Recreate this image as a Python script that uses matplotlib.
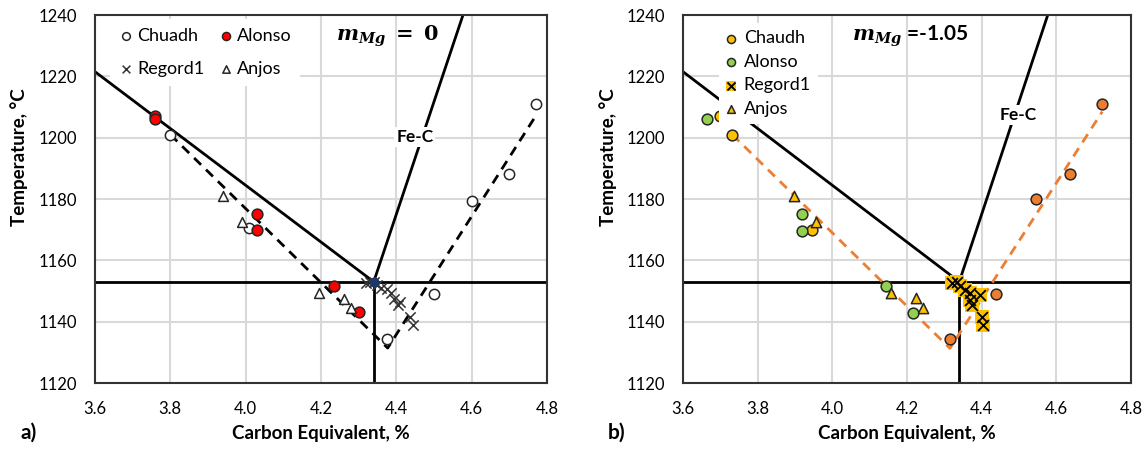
import matplotlib
matplotlib.use("Agg")
from matplotlib import pyplot as plt
import numpy as np

plt.rcParams['font.family'] = ['Lato', 'DejaVu Sans']
plt.rcParams['mathtext.fontset'] = 'dejavuserif'

# ---------------------------------------------------------------- data
# panel a) m_Mg = 0
chuadh_ce = [3.80, 4.01, 4.375, 4.50, 4.60, 4.70, 4.77]
chuadh_t  = [1201, 1170.5, 1134.5, 1149, 1179.5, 1188, 1211]
alonso_ce = [3.76, 3.76, 4.03, 4.03, 4.235, 4.30]
alonso_t  = [1207, 1206, 1175, 1170, 1151.5, 1143]
regord_ce = [4.32, 4.33, 4.34, 4.35, 4.36, 4.375, 4.385, 4.395, 4.405, 4.41, 4.435, 4.445]
regord_t  = [1152.5, 1153, 1153, 1152, 1151, 1150.5, 1149.5, 1147.5, 1145.5, 1146.5, 1141.5, 1139]
anjos_ce  = [3.94, 3.99, 4.195, 4.26, 4.28]
anjos_t   = [1181, 1172.5, 1149.5, 1147.5, 1144.5]
trend_a_ce = [3.80, 4.377, 4.768]
trend_a_t  = [1201, 1131.4, 1206.7]

# panel b) m_Mg = -1.05
chaudh_b_ce = [3.70, 3.73, 3.946]
chaudh_b_t  = [1207, 1201, 1170]
alonso_b_ce = [3.663, 3.92, 3.92, 4.144, 4.216]
alonso_b_t  = [1206, 1175, 1169.5, 1151.5, 1142.7]
regord_b_ce = [4.32, 4.333, 4.342, 4.355, 4.369, 4.369, 4.373, 4.396, 4.40, 4.404]
regord_b_t  = [1152.5, 1153, 1151.5, 1150.3, 1149.2, 1147.1, 1145.4, 1148.7, 1141.6, 1139]
anjos_b_ce  = [3.898, 3.956, 4.156, 4.223, 4.243]
anjos_b_t   = [1181, 1172.5, 1149.5, 1147.6, 1144.6]
hyper_b_ce  = [4.315, 4.439, 4.546, 4.636, 4.722]
hyper_b_t   = [1134.3, 1149, 1180, 1188.2, 1211]
trend_b_ce = [3.732, 4.315, 4.723]
trend_b_t  = [1201, 1131.3, 1208.5]

# Fe-C diagram lines
liq_ce   = [3.60, 4.34]
liq_t    = [1221.5, 1153]
gr_ce    = [4.34, 4.577]
gr_t     = [1153, 1240]
eut_ce   = 4.34
eut_t    = 1153

YELLOW = '#FFC000'
GREEN  = '#92D050'
ORANGE = '#ED7D31'
EDGE   = '#262626'

fig = plt.figure(figsize=(11.48, 4.51), dpi=100)
axa = fig.add_axes([95/1148, 68/451, 452/1148, 368/451])
axb = fig.add_axes([683/1148, 68/451, 448/1148, 368/451])


def setup(ax):
    ax.set_xlim(3.6, 4.8)
    ax.set_ylim(1120, 1240)
    ax.set_xticks(np.arange(3.6, 4.81, 0.2))
    ax.set_xticklabels(['%.1f' % v for v in np.arange(3.6, 4.81, 0.2)])
    ax.set_yticks(np.arange(1120, 1241, 20))
    ax.grid(color='#d9d9d9', linewidth=1.5, zorder=0)
    ax.set_axisbelow(True)
    ax.tick_params(length=0, labelsize=12, pad=13)
    for s in ax.spines.values():
        s.set_linewidth(1.5)
        s.set_color('#333333')
    ax.set_xlabel('Carbon Equivalent, %', fontsize=13.5, fontweight='bold')
    ax.set_ylabel('Temperature, °C', fontsize=13.5, fontweight='bold')
    ax.xaxis.label.set_va('center')
    ax.yaxis.label.set_va('center')
    ax.xaxis.set_label_coords(0.5, -0.136)
    ax.yaxis.set_label_coords(-0.168, 0.614)
    # Fe-C lines
    ax.plot(liq_ce, liq_t, color='black', lw=2, zorder=2)
    ax.plot(gr_ce, gr_t, color='black', lw=2, zorder=2)
    ax.axhline(eut_t, color='black', lw=2, zorder=2)
    ax.plot([eut_ce, eut_ce], [1120, eut_t], color='black', lw=2, zorder=2)


setup(axa)
setup(axb)

# ---------------------------------------------------------------- panel a
axa.plot(trend_a_ce, trend_a_t, color='black', lw=2, ls=(0, (3.5, 2.5)), zorder=2)
axa.scatter(regord_ce, regord_t, marker='x', s=55, color='#333333', lw=1.1,
            zorder=3, label='Regord1')
axa.scatter([eut_ce], [eut_t], marker='o', s=40, color='#1F3864', zorder=4)
axa.scatter(chuadh_ce, chuadh_t, marker='o', s=55, facecolor='white',
            edgecolor=EDGE, lw=1.1, zorder=3, label='Chuadh')
axa.scatter(alonso_ce, alonso_t, marker='o', s=60, facecolor='#FF0000',
            edgecolor=EDGE, lw=1.1, zorder=3, label='Alonso')
axa.scatter(anjos_ce, anjos_t, marker='^', s=50, facecolor='white',
            edgecolor=EDGE, lw=1.1, zorder=3, label='Anjos')

h, l = axa.get_legend_handles_labels()
order = [1, 0, 2, 3]
lga = axa.legend([h[i] for i in order], [l[i] for i in order], ncol=2,
                 loc='upper left', bbox_to_anchor=(0.033, 0.99), fontsize=13,
                 frameon=True, fancybox=False, edgecolor='none', framealpha=1,
                 handletextpad=0.2, columnspacing=0.8, handlelength=0.8,
                 borderpad=0.5, labelspacing=0.95, borderaxespad=0.0,
                 markerscale=0.75)
# sits over the grid but under the diagram lines
lga.set_zorder(1.5)

axa.text(4.449, 1200.3, 'Fe-C', fontsize=12.5, fontweight='bold', ha='center',
         va='center', zorder=5,
         bbox=dict(facecolor='white', edgecolor='none', pad=1.5))
axa.text(4.378, 1233, r'$\mathbfit{m}_{\mathbfit{Mg}}\ \mathbf{=\ 0}$',
         fontsize=15, ha='center', va='center', zorder=12)

# ---------------------------------------------------------------- panel b
axb.plot(trend_b_ce, trend_b_t, color=ORANGE, lw=2, ls=(0, (3.5, 2.5)), zorder=2)
axb.scatter(hyper_b_ce, hyper_b_t, marker='o', s=60, facecolor=ORANGE,
            edgecolor=EDGE, lw=1.1, zorder=3)
axb.scatter(chaudh_b_ce, chaudh_b_t, marker='o', s=60, facecolor=YELLOW,
            edgecolor=EDGE, lw=1.1, zorder=3)
axb.scatter(alonso_b_ce, alonso_b_t, marker='o', s=60, facecolor=GREEN,
            edgecolor=EDGE, lw=1.1, zorder=3)
axb.scatter(anjos_b_ce, anjos_b_t, marker='^', s=55, facecolor=YELLOW,
            edgecolor=EDGE, lw=1.1, zorder=3)
sq = axb.scatter(regord_b_ce, regord_b_t, marker='s', s=110, color=YELLOW,
                 lw=0, zorder=3)
xx = axb.scatter(regord_b_ce, regord_b_t, marker='x', s=60, color='black',
                 lw=1.3, zorder=4)

hb = [
    axb.scatter([], [], marker='o', s=60, facecolor=YELLOW, edgecolor=EDGE, lw=1.1),
    axb.scatter([], [], marker='o', s=60, facecolor=GREEN, edgecolor=EDGE, lw=1.1),
    (sq, xx),
    axb.scatter([], [], marker='^', s=55, facecolor=YELLOW, edgecolor=EDGE, lw=1.1),
]
lgb = axb.legend(hb, ['Chaudh', 'Alonso', 'Regord1', 'Anjos'],
                 loc='upper left', bbox_to_anchor=(0.081, 0.978), fontsize=13,
                 frameon=True, fancybox=False, edgecolor='none', framealpha=1,
                 handletextpad=0.45, handlelength=0.5, borderpad=0.4,
                 labelspacing=0.42, borderaxespad=0.0, markerscale=0.75)
lgb.set_zorder(10)

axb.text(4.498, 1207.4, 'Fe-C', fontsize=12.5, fontweight='bold', ha='center',
         va='center', zorder=5,
         bbox=dict(facecolor='white', edgecolor='none', pad=1.5))
axb.text(4.208, 1233, r'$\mathbfit{m}_{\mathbfit{Mg}}$ =-1.05', fontsize=15,
         fontweight='bold', ha='center', va='center', zorder=12)

fig.text(29/1148, 1 - 433/451, 'a)', fontsize=15, fontweight='bold',
         va='center', ha='center')
fig.text(617/1148, 1 - 433/451, 'b)', fontsize=15, fontweight='bold',
         va='center', ha='center')

fig.savefig('out.png', dpi=100)
